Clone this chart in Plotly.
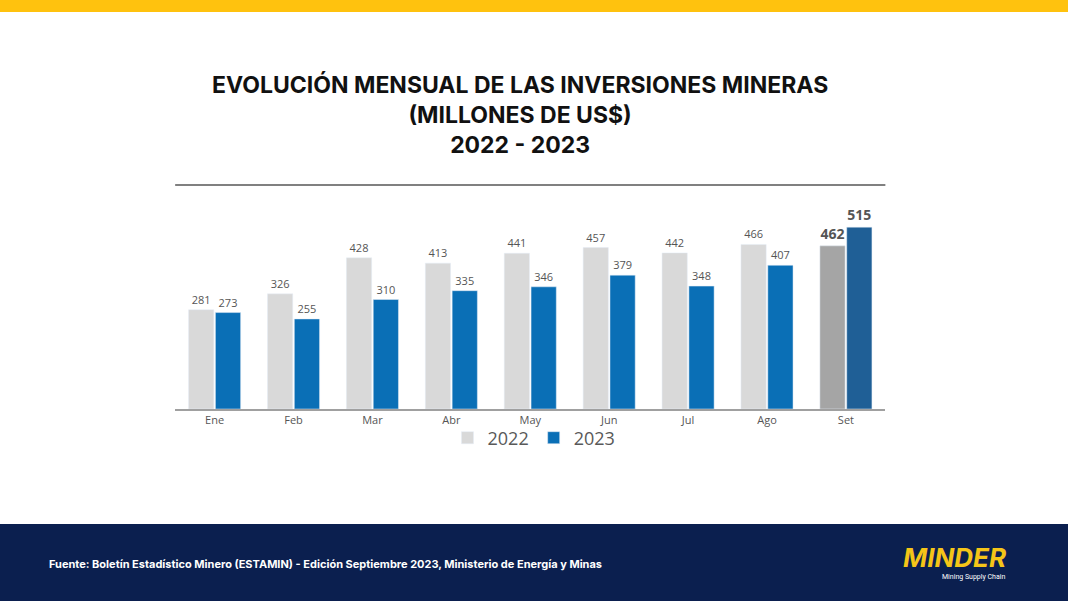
import plotly.graph_objects as go

meses = ["Ene", "Feb", "Mar", "Abr", "May", "Jun", "Jul", "Ago", "Set"]
v2022 = [281, 326, 428, 413, 441, 457, 442, 466, 462]
v2023 = [273, 255, 310, 335, 346, 379, 348, 407, 515]

c22 = ["#d9d9d9"] * 8 + ["#a5a5a5"]
c23 = ["#0a6fb6"] * 8 + ["#1f5f96"]


def etiquetas(vals):
    return [str(v) if i < 8 else "<b>%d</b>" % v for i, v in enumerate(vals)]


fig = go.Figure()
fig.add_trace(go.Bar(x=meses, y=v2022, name="2022", marker_color=c22,
                     text=etiquetas(v2022), textposition="outside", cliponaxis=False,
                     textfont=dict(size=[11] * 8 + [14], color="#555555", family="Open Sans")))
fig.add_trace(go.Bar(x=meses, y=v2023, name="2023", marker_color=c23,
                     text=etiquetas(v2023), textposition="outside", cliponaxis=False,
                     textfont=dict(size=[11] * 8 + [14], color="#555555", family="Open Sans")))

fig.update_layout(
    width=1068, height=601, margin=dict(l=0, r=0, t=0, b=0),
    paper_bgcolor="white", plot_bgcolor="white",
    barmode="group", bargap=0.32, bargroupgap=0.06,
    xaxis=dict(domain=[0.164, 0.829], showline=True, linecolor="#a0a0a0", linewidth=2,
               tickfont=dict(size=11, color="#555555", family="Open Sans"), ticks=""),
    yaxis=dict(domain=[0.3195, 0.692], range=[0, 634], visible=False),
    showlegend=True,
    legend=dict(orientation="h", x=0.5, xanchor="center", y=0.302, yanchor="top",
                font=dict(size=18, color="#595959", family="Open Sans"), itemwidth=30,
                bgcolor="rgba(0,0,0,0)"),
    title=dict(text="<b>EVOLUCIÓN MENSUAL DE LAS INVERSIONES MINERAS<br>(MILLONES DE US$)<br>2022 - 2023</b>",
               x=0.487, xanchor="center", y=0.845, yanchor="middle",
               font=dict(size=23, color="#111111", family="Inter")),
    shapes=[
        dict(type="rect", xref="paper", yref="paper", x0=0, x1=1, y0=0.98, y1=1,
             fillcolor="#ffc20e", line_width=0, layer="below"),
        dict(type="rect", xref="paper", yref="paper", x0=0, x1=1, y0=0, y1=0.128,
             fillcolor="#0b1f4f", line_width=0, layer="below"),
        dict(type="line", xref="paper", yref="paper", x0=0.164, x1=0.829, y0=0.692, y1=0.692,
             line=dict(color="#808080", width=2)),
    ],
    annotations=[
        dict(text="<b>Fuente: Boletín Estadístico Minero (ESTAMIN) - Edición Septiembre 2023, Ministerio de Energía y Minas</b>",
             xref="paper", yref="paper", x=0.044, y=0.062, xanchor="left", yanchor="middle",
             showarrow=False, font=dict(size=11, color="white", family="Inter")),
        dict(text="<b><i>MINDER</i></b>", xref="paper", yref="paper", x=0.945, y=0.072,
             xanchor="right", yanchor="middle", showarrow=False,
             font=dict(size=26, color="#f5c518", family="Inter")),
        dict(text="Mining Supply Chain", xref="paper", yref="paper", x=0.943, y=0.04,
             xanchor="right", yanchor="middle", showarrow=False,
             font=dict(size=7, color="white", family="Roboto")),
    ],
)
fig.write_html("out.html", config={"displayModeBar": False},
               post_script="document.body.style.margin='0';")
